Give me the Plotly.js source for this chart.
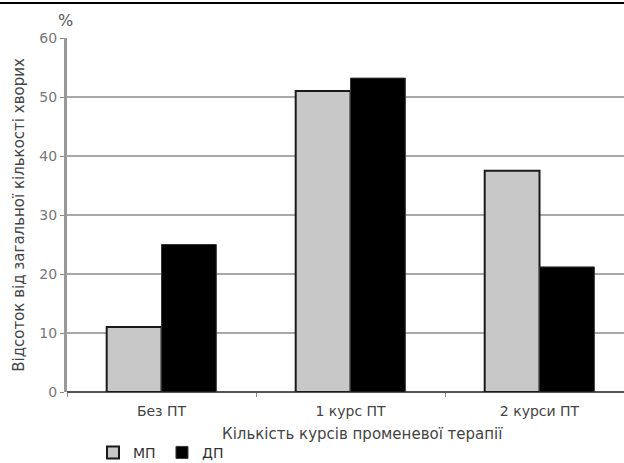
<!DOCTYPE html>
<html><head><meta charset="utf-8">
<script src="https://cdn.plot.ly/plotly-3.0.1.min.js"></script>
<style>body{margin:0;background:#fff}#c{width:624px;height:463px}</style>
</head><body><div id="c"></div>
<script>
const categories = ["Без ПТ", "1 курс ПТ", "2 курси ПТ"];
const seriesNames = ["МП", "ДП"];
const mpValues = [11, 51, 37.5];
const dpValues = [25, 53.2, 21.2];
const yTicks = [0, 10, 20, 30, 40, 50, 60];
const xTitle = "Кількість курсів променевої терапії";
const yTitle = "Відсоток від загальної кількості хворих";

const font = "DejaVu Sans, Liberation Sans, sans-serif";
const traces = [
  {type:"bar", name:seriesNames[0], x:categories, y:mpValues,
   marker:{color:"#c8c8c8", line:{color:"#1a1a1a", width:2}}},
  {type:"bar", name:seriesNames[1], x:categories, y:dpValues,
   marker:{color:"#000000", line:{color:"#333", width:1}}}
];
const layout = {
  width:624, height:463,
  margin:{l:67, r:0, t:38, b:71, autoexpand:false},
  paper_bgcolor:"#fff", plot_bgcolor:"#fff",
  font:{family:font, color:"#444", size:13},
  barmode:"group", bargap:0.42, bargroupgap:0,
  showlegend:true,
  legend:{orientation:"h", x:0.149, xref:"container", y:0.022, yref:"container",
    xanchor:"left", yanchor:"middle", entrywidth:24, entrywidthmode:"pixels",
    font:{size:14, color:"#333"}, itemwidth:30, bgcolor:"rgba(0,0,0,0)", traceorder:"normal"},
  xaxis:{type:"category", range:[-0.5, 2.447], showgrid:false, zeroline:false, automargin:false,
    showline:false, ticks:"outside", tickson:"boundaries", ticklen:4, tickcolor:"#888",
    ticklabelstandoff:9,
    tickfont:{size:14, color:"#444"}},
  yaxis:{range:[0,60], tickvals:yTicks, ticktext:yTicks.map(String), automargin:false,
    showgrid:true, gridcolor:"#a8a8a8", gridwidth:1.5,
    zeroline:true, zerolinecolor:"#555", zerolinewidth:2,
    showline:true, linecolor:"#999", linewidth:3,
    ticks:"outside", ticklen:4, tickcolor:"#888",
    tickfont:{size:14, color:"#777"},
    title:{text:yTitle, font:{size:15, color:"#444"}, standoff:12}},
  annotations:[
    {text:"%", xref:"paper", yref:"paper", x:-0.003, y:1.05, xanchor:"center", yanchor:"middle",
     showarrow:false, font:{size:16, color:"#555"}},
    {text:xTitle, xref:"paper", yref:"paper", x:0.53, y:-0.119, xanchor:"center", yanchor:"middle",
     showarrow:false, font:{size:15, color:"#444"}}
  ],
  shapes:[{type:"line", xref:"paper", yref:"paper", x0:-0.2, x1:1.1, y0:1.099, y1:1.099,
    line:{color:"#000", width:2}}]
};
Plotly.newPlot("c", traces, layout, {displayModeBar:false, staticPlot:true});
</script></body></html>
